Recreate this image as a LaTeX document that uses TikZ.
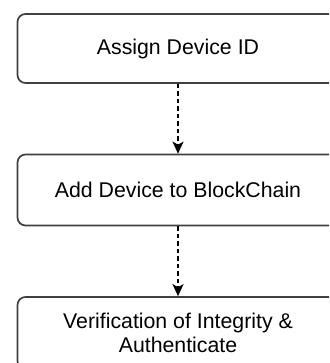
\documentclass[tikz,border=0pt]{standalone}
\usepackage{fontspec}
\setmainfont{Liberation Sans}
\usetikzlibrary{arrows.meta}
\begin{document}
\begin{tikzpicture}[x=1pt,y=-1pt,
  stepbox/.style={draw=black!75, line width=1.7pt, rounded corners=8pt,
    minimum width=321pt, inner sep=0pt, align=center,
    font=\fontsize{21.3}{24}\selectfont},
  flow/.style={draw=black, line width=1.6pt, dash pattern=on 4.5pt off 3pt,
    -{Stealth[length=12pt,width=11pt,inset=3pt]}}
]
\useasboundingbox (0,0) rectangle (329,363);
\clip (0,0) rectangle (329,363);
\node[stepbox, minimum height=69pt] (assign) at (178,48.5) {Assign Device ID};
\node[stepbox, minimum height=71pt] (add) at (178,190) {Add Device to BlockChain};
\node[stepbox, minimum height=72pt] (verify) at (178,333)
  {Verification of Integrity \&\\Authenticate};
\draw[flow] (assign.south) -- (add.north);
\draw[flow] (add.south) -- (verify.north);
\end{tikzpicture}
\end{document}
